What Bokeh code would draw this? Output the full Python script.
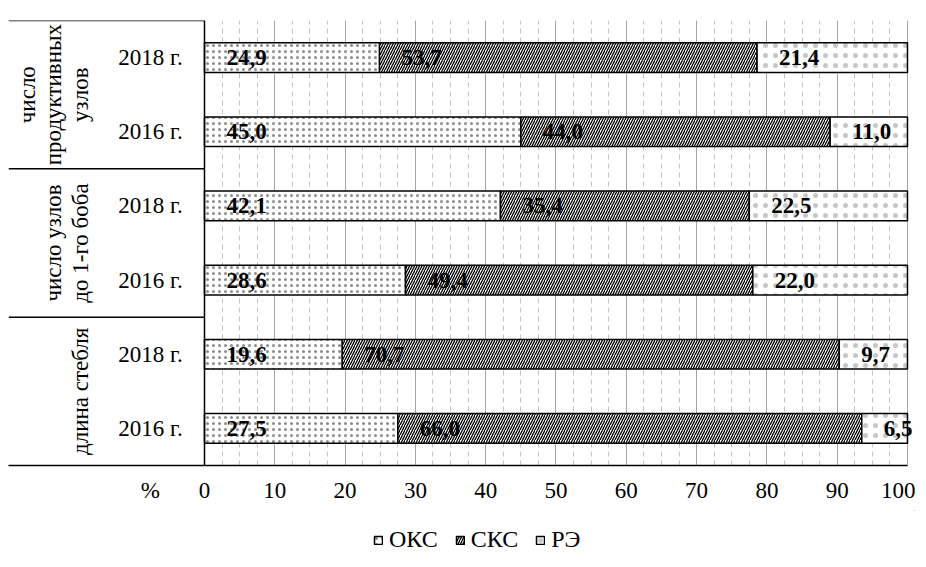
import math
from bokeh.plotting import figure
from bokeh.layouts import column
from bokeh.models import (FactorRange, Range1d, FixedTicker, Span, Legend, LegendItem)
from bokeh.core.properties import value
from bokeh.embed import file_html
from bokeh.resources import INLINE

# ---------------- data ----------------
groups = ["число продуктивных узлов", "число узлов до 1-го боба", "длина стебля"]
group_labels = ["число\nпродуктивных\nузлов", "число узлов\nдо 1-го боба", "длина стебля"]
years = ["2018 г.", "2016 г."]
series = ["ОКС", "СКС", "РЭ"]
# rows from top to bottom: (group, year)
oks = [24.9, 45.0, 42.1, 28.6, 19.6, 27.5]
sks = [53.7, 44.0, 35.4, 49.4, 70.7, 66.0]
re_ = [21.4, 11.0, 22.5, 22.0, 9.7, 6.5]
x_ticks = [0, 10, 20, 30, 40, 50, 60, 70, 80, 90, 100]
x_minor = [i * 2.5 for i in range(41)]

# ---------------- layout constants ----------------
XMIN, XMAX = -27.88, 101.14
PCT_POS = -7.7
YEAR_X = -3.1
GROUP_X = -15.85
FONT = "Liberation Serif"
FS = "23px"

rows = [(g, y) for g in groups for y in years]          # top -> bottom
factors = list(reversed(rows))                          # bottom -> top

p = figure(frame_width=907, frame_height=445,
           x_range=Range1d(XMIN, XMAX),
           y_range=FactorRange(factors=factors, factor_padding=0, group_padding=0, range_padding=0),
           y_axis_location=None, output_backend="svg", toolbar_location=None,
           min_border_left=8, min_border_right=0, min_border_top=20, min_border_bottom=45,
           outline_line_color=None, background_fill_color="white")

# grid
p.ygrid.visible = False
p.xgrid.ticker = FixedTicker(ticks=x_ticks, minor_ticks=x_minor)
p.xgrid.grid_line_color = "#a6a6a6"
p.xgrid.grid_line_width = 1
p.xgrid.minor_grid_line_color = "#c4c4c4"
p.xgrid.minor_grid_line_dash = "5 4"
p.xgrid.minor_grid_line_width = 1

# x axis
ax = p.xaxis[0]
ax.ticker = FixedTicker(ticks=[PCT_POS] + x_ticks, minor_ticks=[])
ax.major_label_overrides = {PCT_POS: "%"}
ax.bounds = (XMIN, 100)
ax.axis_line_color = "black"
ax.axis_line_width = 1.5
ax.major_tick_line_color = None
ax.minor_tick_line_color = None
ax.major_tick_out = 0
ax.major_tick_in = 0
ax.major_label_standoff = 12
ax.major_label_text_font = FONT
ax.major_label_text_font_size = FS
ax.major_label_text_color = "black"

# bar styles
common = dict(fill_color="white", line_color="black", line_width=1.5, hatch_color="black")
styles = [dict(hatch_pattern=".", hatch_scale=6, hatch_alpha=0.45),
          dict(hatch_pattern="/", hatch_scale=5, hatch_weight=1.3),
          dict(hatch_pattern=".", hatch_scale=10, hatch_alpha=0.22)]

# stacked bars
left1 = [0] * len(oks)
right1 = oks
left2 = oks
right2 = [a + b for a, b in zip(oks, sks)]
left3 = right2
right3 = [a + b + c for a, b, c in zip(oks, sks, re_)]

for (lefts, rights), st in zip(((left1, right1), (left2, right2), (left3, right3)), styles):
    p.hbar(y=rows, left=lefts, right=rights, height=0.4, **common, **st)

def fmt(v):
    return f"{v:.1f}".replace(".", ",")

for lefts, vals in ((left1, oks), (left2, sks), (left3, re_)):
    p.text(x=lefts, y=rows, text=[fmt(v) for v in vals], x_offset=22,
           text_align="left", text_baseline="middle", text_font=value(FONT),
           text_font_size=FS, text_font_style="bold", text_color="black")

# left table: year labels, group labels, separators
p.text(x=[YEAR_X] * len(rows), y=rows, text=[y for _, y in rows],
       text_align="right", text_baseline="middle", text_font=value(FONT),
       text_font_size=FS, text_color="black")
p.text(x=[GROUP_X] * len(groups), y=groups, text=group_labels, angle=math.pi / 2,
       text_align="center", text_baseline="bottom", text_font=value(FONT),
       text_font_size=FS, text_color="black", text_line_height=1.07)
p.segment(x0=[XMIN] * len(groups), x1=[0] * len(groups),
          y0=[(g, years[0], 0.5) for g in groups], y1=[(g, years[0], 0.5) for g in groups],
          line_color="black", line_width=1.5)
p.add_layout(Span(location=0, dimension="height", line_color="black", line_width=1.5))

# legend strip below the chart (its sample bars lie well outside the strip's visible range)
leg = figure(width=915, height=50, x_range=Range1d(0, 1), y_range=Range1d(0, 1),
             x_axis_location=None, y_axis_location=None, output_backend="svg",
             toolbar_location=None, min_border=0, outline_line_color=None)
leg.grid.visible = False
leg_renderers = [leg.hbar(y=[5], left=[5], right=[6], height=0.4, **common, **st)
                 for st in styles]
legend = Legend(items=[LegendItem(label=s, renderers=[r]) for s, r in zip(series, leg_renderers)],
                orientation="horizontal", location=(365, 7),
                glyph_width=10, glyph_height=10, label_standoff=6, spacing=17,
                label_text_font=FONT, label_text_font_size="24px", label_text_color="black",
                border_line_color=None, background_fill_alpha=0, margin=0, padding=0)
leg.add_layout(legend)

layout = column(p, leg, spacing=0)
open("out.html", "w").write(file_html(layout, INLINE))
